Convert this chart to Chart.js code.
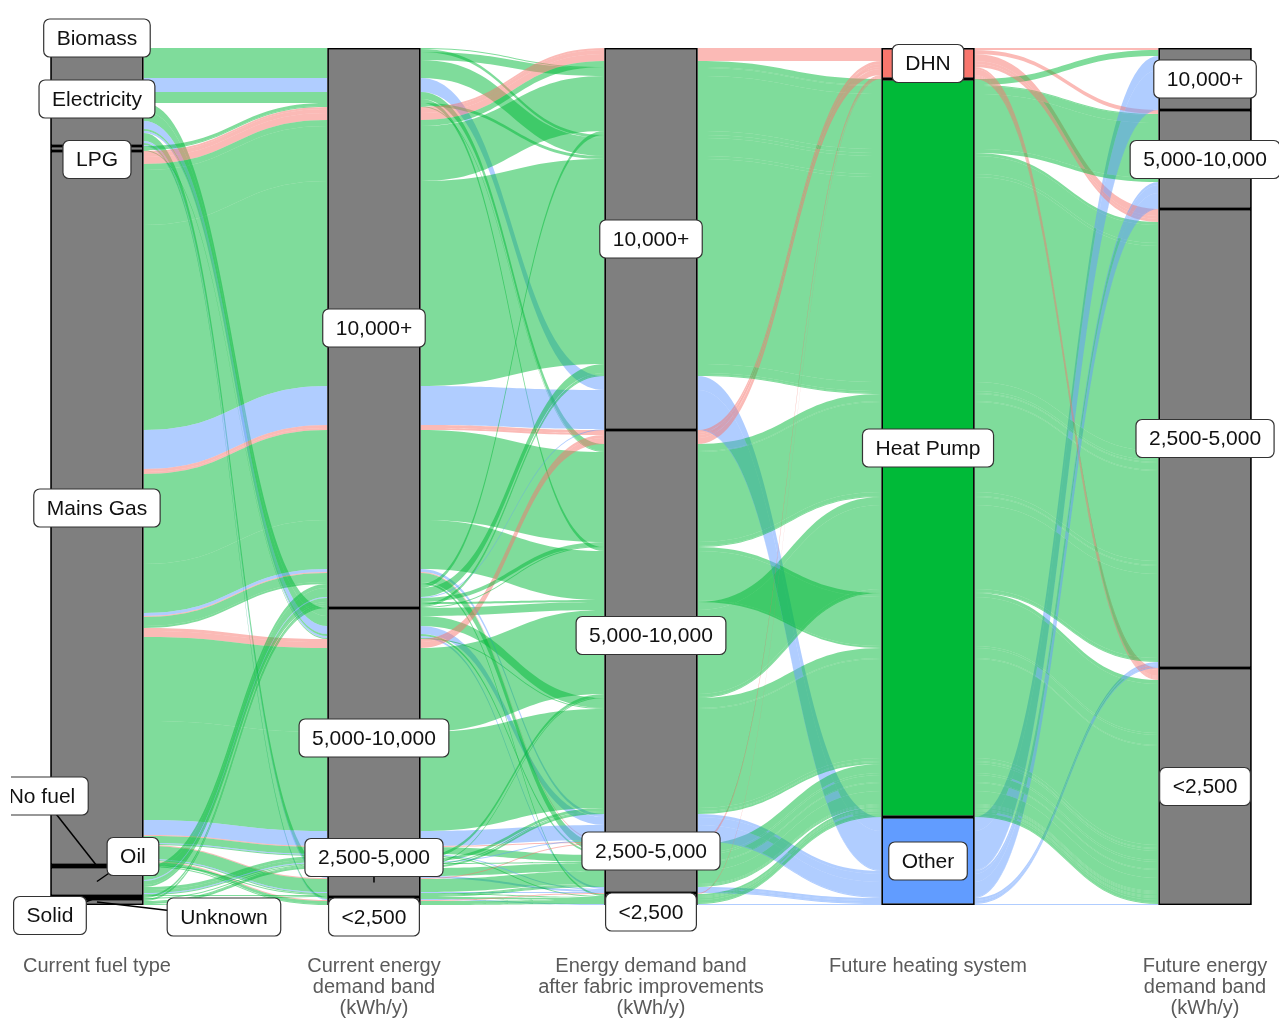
<!DOCTYPE html>
<html>
<head>
<meta charset="utf-8">
<title>Heating transition alluvial</title>
<script src="https://cdn.jsdelivr.net/npm/chart.js@4.4.1/dist/chart.umd.min.js"></script>
<style>
  html, body { margin: 0; background: #fff; }
</style>
</head>
<body>
<canvas id="alluvialChart" width="1279" height="1021"></canvas>
<script>
// axis titles (one list of lines per axis)
const axisTitles = [
  ["Current fuel type"],
  ["Current energy", "demand band", "(kWh/y)"],
  ["Energy demand band", "after fabric improvements", "(kWh/y)"],
  ["Future heating system"],
  ["Future energy", "demand band", "(kWh/y)"],
];
const fuelTypes = ["Biomass", "Electricity", "LPG", "Mains Gas", "No fuel", "Oil", "Solid", "Unknown"];
const demandBands = ["10,000+", "5,000-10,000", "2,500-5,000", "<2,500"];
const heatingSystems = ["DHN", "Heat Pump", "Other"];

// one row per alluvium: fuel, current band, band after fabric, future system, future band, homes
const homes = [
  ["Biomass", "10,000+", "10,000+", "Heat Pump", "5,000-10,000", 1],
  ["Biomass", "10,000+", "10,000+", "Heat Pump", "2,500-5,000", 3],
  ["Electricity", "10,000+", "10,000+", "Heat Pump", "5,000-10,000", 8],
  ["Electricity", "10,000+", "10,000+", "Heat Pump", "2,500-5,000", 18],
  ["Electricity", "10,000+", "10,000+", "Other", "10,000+", 14],
  ["Electricity", "10,000+", "5,000-10,000", "Heat Pump", "2,500-5,000", 7],
  ["Electricity", "10,000+", "5,000-10,000", "Heat Pump", "<2,500", 4],
  ["Electricity", "5,000-10,000", "5,000-10,000", "Heat Pump", "2,500-5,000", 8],
  ["Electricity", "5,000-10,000", "5,000-10,000", "Heat Pump", "<2,500", 10],
  ["Electricity", "5,000-10,000", "5,000-10,000", "Other", "5,000-10,000", 8],
  ["Electricity", "5,000-10,000", "2,500-5,000", "Heat Pump", "<2,500", 2],
  ["Electricity", "5,000-10,000", "2,500-5,000", "Other", "2,500-5,000", 2],
  ["Electricity", "2,500-5,000", "2,500-5,000", "Heat Pump", "<2,500", 8],
  ["Electricity", "2,500-5,000", "2,500-5,000", "Other", "2,500-5,000", 2],
  ["Electricity", "<2,500", "<2,500", "Heat Pump", "<2,500", 2],
  ["Electricity", "<2,500", "<2,500", "Other", "<2,500", 1],
  ["LPG", "10,000+", "10,000+", "Heat Pump", "2,500-5,000", 3],
  ["LPG", "10,000+", "5,000-10,000", "Heat Pump", "2,500-5,000", 1],
  ["LPG", "5,000-10,000", "5,000-10,000", "Heat Pump", "<2,500", 1],
  ["Mains Gas", "10,000+", "10,000+", "DHN", "10,000+", 2],
  ["Mains Gas", "10,000+", "10,000+", "DHN", "5,000-10,000", 4],
  ["Mains Gas", "10,000+", "10,000+", "DHN", "2,500-5,000", 7],
  ["Mains Gas", "10,000+", "10,000+", "Heat Pump", "10,000+", 6],
  ["Mains Gas", "10,000+", "10,000+", "Heat Pump", "5,000-10,000", 55],
  ["Mains Gas", "10,000+", "10,000+", "Heat Pump", "2,500-5,000", 205],
  ["Mains Gas", "10,000+", "10,000+", "Other", "10,000+", 39],
  ["Mains Gas", "10,000+", "5,000-10,000", "DHN", "2,500-5,000", 3],
  ["Mains Gas", "10,000+", "5,000-10,000", "DHN", "<2,500", 2],
  ["Mains Gas", "10,000+", "5,000-10,000", "Heat Pump", "2,500-5,000", 90],
  ["Mains Gas", "10,000+", "5,000-10,000", "Heat Pump", "<2,500", 49],
  ["Mains Gas", "10,000+", "5,000-10,000", "Other", "5,000-10,000", 3],
  ["Mains Gas", "10,000+", "2,500-5,000", "DHN", "<2,500", 1],
  ["Mains Gas", "10,000+", "2,500-5,000", "Heat Pump", "<2,500", 9],
  ["Mains Gas", "10,000+", "<2,500", "Heat Pump", "<2,500", 2],
  ["Mains Gas", "5,000-10,000", "5,000-10,000", "DHN", "2,500-5,000", 3],
  ["Mains Gas", "5,000-10,000", "5,000-10,000", "DHN", "<2,500", 6],
  ["Mains Gas", "5,000-10,000", "5,000-10,000", "Heat Pump", "2,500-5,000", 84],
  ["Mains Gas", "5,000-10,000", "5,000-10,000", "Heat Pump", "<2,500", 99],
  ["Mains Gas", "5,000-10,000", "5,000-10,000", "Other", "5,000-10,000", 15],
  ["Mains Gas", "5,000-10,000", "2,500-5,000", "DHN", "<2,500", 1],
  ["Mains Gas", "5,000-10,000", "2,500-5,000", "Heat Pump", "<2,500", 7],
  ["Mains Gas", "5,000-10,000", "2,500-5,000", "Other", "2,500-5,000", 1],
  ["Mains Gas", "5,000-10,000", "<2,500", "Heat Pump", "<2,500", 1],
  ["Mains Gas", "2,500-5,000", "2,500-5,000", "DHN", "<2,500", 1],
  ["Mains Gas", "2,500-5,000", "2,500-5,000", "Heat Pump", "<2,500", 13],
  ["Mains Gas", "2,500-5,000", "2,500-5,000", "Other", "2,500-5,000", 1],
  ["Mains Gas", "2,500-5,000", "<2,500", "Heat Pump", "<2,500", 1],
  ["Mains Gas", "<2,500", "<2,500", "DHN", "<2,500", 1],
  ["Mains Gas", "<2,500", "<2,500", "Heat Pump", "<2,500", 3],
  ["No fuel", "2,500-5,000", "2,500-5,000", "Heat Pump", "<2,500", 1],
  ["No fuel", "<2,500", "<2,500", "Heat Pump", "<2,500", 1],
  ["Oil", "10,000+", "10,000+", "Heat Pump", "5,000-10,000", 4],
  ["Oil", "10,000+", "10,000+", "Heat Pump", "2,500-5,000", 9],
  ["Oil", "10,000+", "10,000+", "Other", "10,000+", 1],
  ["Oil", "10,000+", "5,000-10,000", "Heat Pump", "2,500-5,000", 4],
  ["Oil", "10,000+", "5,000-10,000", "Heat Pump", "<2,500", 2],
  ["Oil", "5,000-10,000", "5,000-10,000", "Heat Pump", "2,500-5,000", 3],
  ["Oil", "5,000-10,000", "5,000-10,000", "Heat Pump", "<2,500", 3],
  ["Oil", "5,000-10,000", "5,000-10,000", "Other", "5,000-10,000", 1],
  ["Oil", "5,000-10,000", "2,500-5,000", "Heat Pump", "<2,500", 1],
  ["Oil", "2,500-5,000", "2,500-5,000", "Heat Pump", "<2,500", 1],
  ["Solid", "10,000+", "10,000+", "Heat Pump", "2,500-5,000", 2],
  ["Solid", "5,000-10,000", "5,000-10,000", "Heat Pump", "<2,500", 1],
  ["Unknown", "10,000+", "10,000+", "Heat Pump", "2,500-5,000", 1],
  ["Unknown", "10,000+", "5,000-10,000", "Heat Pump", "2,500-5,000", 1],
  ["Unknown", "5,000-10,000", "5,000-10,000", "Heat Pump", "2,500-5,000", 1],
  ["Unknown", "5,000-10,000", "5,000-10,000", "Heat Pump", "<2,500", 2],
  ["Unknown", "2,500-5,000", "2,500-5,000", "Heat Pump", "<2,500", 1],
];

const heatColors = ["#F8766D", "#00BA38", "#619CFF"];
const flowColors = ["rgba(248,118,109,0.5)", "rgba(0,186,56,0.5)", "rgba(97,156,255,0.5)"];

// labels pushed off their stratum (pixels), like ggrepel did
const labelNudge = {
  "0|Biomass": [0, -12],
  "0|LPG": [0, 11],
  "0|No fuel": [-55, -70],
  "0|Oil": [36, -25],
  "0|Solid": [-47, 18],
  "0|Unknown": [127, 15],
  "1|2,500-5,000": [0, -25],
  "1|<2,500": [0, 16],
  "2|2,500-5,000": [0, -16],
  "2|<2,500": [0, 13],
};

// ---- alluvial layout (ggalluvial-like, zigzag lode ordering) ----
const axisLevels = [fuelTypes, demandBands, demandBands, heatingSystems, demandBands];
const codes = homes.map((r) => r.slice(0, 5).map((v, i) => axisLevels[i].indexOf(v)));
const total = homes.reduce((s, r) => s + r[5], 0);

const strata = axisLevels.map((levels, i) => {
  let acc = 0;
  return levels.map((name, s) => {
    const size = homes.reduce((t, r, a) => t + (codes[a][i] === s ? r[5] : 0), 0);
    const st = { axis: i, name: name, y0: acc, y1: acc + size };
    acc += size;
    return st;
  });
});

const zigzag = [
  [0, 1, 2, 3, 4],
  [1, 0, 2, 3, 4],
  [2, 3, 1, 4, 0],
  [3, 4, 2, 1, 0],
  [4, 3, 2, 1, 0],
];
const lodes = homes.map(() => []);
zigzag.forEach((keys, i) => {
  const order = homes.map((_, a) => a).sort((p, q) => {
    for (const k of keys) {
      if (codes[p][k] !== codes[q][k]) return codes[p][k] - codes[q][k];
    }
    return p - q;
  });
  const pos = strata[i].map((st) => st.y0);
  order.forEach((a) => {
    const s = codes[a][i];
    lodes[a][i] = [pos[s], pos[s] + homes[a][5]];
    pos[s] += homes[a][5];
  });
});

const barData = [];
const barColors = [];
strata.flat().forEach((st) => {
  if (st.y1 <= st.y0) return;
  barData.push({ x: st.axis, y: [st.y0, st.y1] });
  barColors.push(st.axis === 3 ? heatColors[heatingSystems.indexOf(st.name)] : "#7F7F7F");
});

const alluvialPlugin = {
  id: "alluvial",
  beforeDatasetsDraw(chart) {
    const { ctx } = chart;
    const { x, y } = chart.scales;
    const half = chart.getDatasetMeta(0).data[0].width / 2;
    ctx.save();
    homes.forEach((row, a) => {
      ctx.fillStyle = flowColors[codes[a][3]];
      for (let i = 0; i < 4; i++) {
        const xa = x.getPixelForValue(i) + half;
        const xb = x.getPixelForValue(i + 1) - half;
        const xm = (xa + xb) / 2;
        const t0 = y.getPixelForValue(lodes[a][i][0]);
        const b0 = y.getPixelForValue(lodes[a][i][1]);
        const t1 = y.getPixelForValue(lodes[a][i + 1][0]);
        const b1 = y.getPixelForValue(lodes[a][i + 1][1]);
        ctx.beginPath();
        ctx.moveTo(xa, t0);
        ctx.bezierCurveTo(xm, t0, xm, t1, xb, t1);
        ctx.lineTo(xb, b1);
        ctx.bezierCurveTo(xm, b1, xm, b0, xa, b0);
        ctx.closePath();
        ctx.fill();
      }
    });
    ctx.restore();
  },
  afterDatasetsDraw(chart) {
    const { ctx } = chart;
    const { x, y } = chart.scales;
    ctx.save();
    ctx.beginPath();
    ctx.rect(11, 0, chart.width, chart.height);
    ctx.clip();
    ctx.font = '21px "Liberation Sans", Arial, sans-serif';
    ctx.textAlign = "center";
    ctx.textBaseline = "middle";
    strata.flat().forEach((st) => {
      if (st.y1 <= st.y0) return;
      const cx = x.getPixelForValue(st.axis);
      const cy = y.getPixelForValue((st.y0 + st.y1) / 2);
      const nudge = labelNudge[st.axis + "|" + st.name] || [0, 0];
      const lx = cx + nudge[0];
      const ly = cy + nudge[1];
      if (nudge[0] || nudge[1]) {
        ctx.strokeStyle = "#000";
        ctx.lineWidth = 1.5;
        ctx.beginPath();
        ctx.moveTo(cx, cy);
        ctx.lineTo(lx, ly);
        ctx.stroke();
      }
      const w = ctx.measureText(st.name).width + 26;
      const h = 38;
      ctx.beginPath();
      ctx.roundRect(lx - w / 2, ly - h / 2, w, h, 6);
      ctx.fillStyle = "#fff";
      ctx.fill();
      ctx.strokeStyle = "#333";
      ctx.lineWidth = 1.2;
      ctx.stroke();
      ctx.fillStyle = "#111";
      ctx.fillText(st.name, lx, ly + 1);
    });
    ctx.restore();
  },
};

const ctx = document.getElementById("alluvialChart").getContext("2d");
new Chart(ctx, {
  type: "bar",
  data: {
    datasets: [
      {
        data: barData,
        backgroundColor: barColors,
        borderColor: "#000",
        borderWidth: 1.8,
        borderSkipped: false,
        barPercentage: 0.338,
        categoryPercentage: 1,
      },
    ],
  },
  options: {
    responsive: false,
    animation: false,
    events: [],
    layout: { padding: { top: 48, left: 0, right: 0, bottom: 0 } },
    plugins: { legend: { display: false }, tooltip: { enabled: false } },
    scales: {
      x: {
        type: "linear",
        bounds: "data",
        offset: false,
        min: -0.35,
        max: 4.267,
        grid: { display: false, drawTicks: false, offset: false },
        border: { display: false },
        afterBuildTicks: (scale) => {
          scale.ticks = axisTitles.map((_, i) => ({ value: i }));
        },
        afterFit: (scale) => {
          scale.height = 116;
          scale.paddingLeft = 0;
          scale.paddingRight = 0;
        },
        ticks: {
          callback: (value) => axisTitles[value],
          color: "#5a5a5a",
          font: { family: '"Liberation Sans", Arial, sans-serif', size: 20, lineHeight: 1.05 },
          padding: 51,
          maxRotation: 0,
          autoSkip: false,
        },
      },
      y: { type: "linear", reverse: true, min: 0, max: total, display: false },
    },
  },
  plugins: [alluvialPlugin],
});
</script>
</body>
</html>
